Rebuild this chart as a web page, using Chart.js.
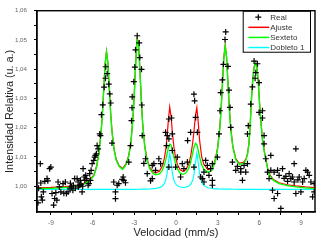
<!DOCTYPE html>
<html>
<head>
<meta charset="utf-8">
<script src="https://cdn.jsdelivr.net/npm/chart.js@4.4.0/dist/chart.umd.min.js"></script>
<style>
html, body { margin: 0; padding: 0; background: #fff; }
</style>
</head>
<body>
<canvas id="chart_mossbauer" width="322" height="242"></canvas>
<script>
// fitted curves, velocity in mm/s
var fitVelocity = [
  -10, -9, -8, -7.2, -6.6, -6.2, -5.9, -5.7, -5.55, -5.4,
  -5.3, -5.2, -5.1, -5.0, -4.9, -4.8, -4.7, -4.6, -4.45, -4.3,
  -4.1, -3.84, -3.6, -3.4, -3.25, -3.1, -3.0, -2.9, -2.8, -2.7,
  -2.6, -2.5, -2.4, -2.25, -2.1, -1.9, -1.65, -1.45, -1.2, -1.0,
  -0.85, -0.75, -0.65, -0.55, -0.45, -0.35, -0.25, -0.15, -0.05, 0.1,
  0.3, 0.5, 0.7, 0.9, 1.05, 1.2, 1.3, 1.4, 1.5, 1.6,
  1.7, 1.85, 2.0, 2.3, 2.6, 2.8, 2.99, 3.14, 3.24, 3.34,
  3.44, 3.54, 3.64, 3.74, 3.84, 3.94, 4.09, 4.3, 4.55, 4.75,
  4.9, 5.05, 5.15, 5.25, 5.33, 5.42, 5.52, 5.62, 5.72, 5.82,
  5.92, 6.0, 6.1, 6.22, 6.35, 6.46, 6.6, 6.72, 7.0, 7.42,
  8.0, 8.62, 9.3, 10
];
var fitAjuste = [
  0.99953, 0.99959, 0.99986, 1.00026, 1.00112, 1.00222, 1.00392, 1.00712, 1.01152, 1.01792,
  1.02442, 1.03312, 1.04192, 1.04612, 1.04222, 1.03352, 1.02502, 1.01862, 1.01262, 1.00922,
  1.00713, 1.00603, 1.00763, 1.01054, 1.01494, 1.02315, 1.03175, 1.04235, 1.05046, 1.04936,
  1.04028, 1.02979, 1.02160, 1.01391, 1.00963, 1.00657, 1.00496, 1.00459, 1.00515, 1.00678,
  1.00930, 1.01212, 1.01645, 1.02259, 1.02711, 1.02359, 1.01782, 1.01341, 1.01035, 1.00747,
  1.00563, 1.00512, 1.00562, 1.00740, 1.01013, 1.01477, 1.01908, 1.02426, 1.02689, 1.02182,
  1.01558, 1.01001, 1.00749, 1.00561, 1.00619, 1.00862, 1.01311, 1.01950, 1.02618, 1.03501,
  1.04407, 1.04831, 1.04416, 1.03520, 1.02646, 1.01987, 1.01363, 1.00942, 1.00786, 1.00805,
  1.00835, 1.00954, 1.01134, 1.01484, 1.02033, 1.02933, 1.03633, 1.04083, 1.04243, 1.04082,
  1.03582, 1.02932, 1.02272, 1.01612, 1.01212, 1.00932, 1.00611, 1.00411, 1.00231, 1.00121,
  1.00051, 1.00011, 0.99976, 0.99951
];
var fitSexteto = [
  0.99922, 0.99928, 0.99955, 0.99995, 1.00080, 1.00190, 1.00360, 1.00680, 1.01120, 1.01760,
  1.02410, 1.03280, 1.04160, 1.04580, 1.04190, 1.03320, 1.02470, 1.01830, 1.01230, 1.00890,
  1.00680, 1.00570, 1.00730, 1.01020, 1.01460, 1.02280, 1.03140, 1.04200, 1.05010, 1.04900,
  1.03990, 1.02940, 1.02120, 1.01350, 1.00920, 1.00610, 1.00440, 1.00390, 1.00420, 1.00535,
  1.00705, 1.00876, 1.01091, 1.01307, 1.01442, 1.01405, 1.01224, 1.00999, 1.00802, 1.00592,
  1.00449, 1.00409, 1.00452, 1.00599, 1.00814, 1.01135, 1.01350, 1.01472, 1.01420, 1.01230,
  1.01004, 1.00730, 1.00586, 1.00473, 1.00556, 1.00810, 1.01263, 1.01904, 1.02573, 1.03457,
  1.04364, 1.04789, 1.04375, 1.03480, 1.02606, 1.01948, 1.01325, 1.00905, 1.00750, 1.00770,
  1.00800, 1.00920, 1.01100, 1.01450, 1.02000, 1.02900, 1.03600, 1.04050, 1.04210, 1.04050,
  1.03550, 1.02900, 1.02240, 1.01580, 1.01180, 1.00900, 1.00580, 1.00380, 1.00200, 1.00090,
  1.00020, 0.99980, 0.99945, 0.99920
];
var fitDobleto1 = [
  0.99891, 0.99891, 0.99891, 0.99891, 0.99892, 0.99892, 0.99892, 0.99892, 0.99892, 0.99892,
  0.99892, 0.99892, 0.99892, 0.99892, 0.99892, 0.99892, 0.99892, 0.99892, 0.99892, 0.99893,
  0.99893, 0.99893, 0.99894, 0.99894, 0.99895, 0.99895, 0.99896, 0.99896, 0.99897, 0.99897,
  0.99898, 0.99899, 0.99900, 0.99901, 0.99903, 0.99907, 0.99916, 0.99929, 0.99955, 1.00003,
  1.00085, 1.00196, 1.00414, 1.00812, 1.01129, 1.00814, 1.00418, 1.00202, 1.00093, 1.00015,
  0.99974, 0.99963, 0.99970, 1.00001, 1.00059, 1.00202, 1.00418, 1.00814, 1.01129, 1.00812,
  1.00414, 1.00131, 1.00023, 0.99948, 0.99923, 0.99912, 0.99908, 0.99906, 0.99905, 0.99904,
  0.99903, 0.99902, 0.99901, 0.99900, 0.99900, 0.99899, 0.99898, 0.99897, 0.99896, 0.99895,
  0.99895, 0.99894, 0.99894, 0.99894, 0.99893, 0.99893, 0.99893, 0.99893, 0.99893, 0.99892,
  0.99892, 0.99892, 0.99892, 0.99892, 0.99892, 0.99892, 0.99891, 0.99891, 0.99891, 0.99891,
  0.99891, 0.99891, 0.99891, 0.99891
];

// measured spectrum
var realVelocity = [
  -9.93, -9.885, -9.762, -9.726, -9.69, -9.618, -9.546, -9.438, -9.279, -9.222,
  -9.092, -9.005, -8.919, -8.803, -8.731, -8.645, -8.573, -8.486, -8.392, -8.284,
  -8.126, -8.068, -7.96, -7.888, -7.765, -7.635, -7.599, -7.527, -7.419, -7.383,
  -7.289, -7.239, -7.116, -7.044, -7.023, -6.929, -6.878, -6.828, -6.756, -6.712,
  -6.684, -6.612, -6.554, -6.496, -6.424, -6.323, -6.266, -6.208, -6.157, -6.107,
  -6.035, -5.919, -5.847, -5.797, -5.725, -5.674, -5.602, -5.487, -5.436, -5.364,
  -5.271, -5.17, -5.076, -5.054, -4.953, -4.838, -4.766, -4.694, -4.607, -4.477,
  -4.355, -4.355, -4.232, -4.117, -3.872, -3.8, -3.756, -3.634, -3.396, -3.273,
  -3.201, -3.165, -3.151, -3.035, -2.963, -2.913, -2.79, -2.646, -2.603, -2.48,
  -2.459, -2.43, -2.314, -2.192, -2.069, -1.831, -1.709, -1.709, -1.593, -1.471,
  -1.233, -1.11, -0.75, -0.678, -0.627, -0.512, -0.512, -0.512, -0.317, -0.267,
  -0.267, -0.029, 0.094, 0.332, 0.454, 0.57, 0.815, 0.836, 1.053, 1.291,
  1.291, 1.341, 1.413, 1.536, 1.774, 1.896, 2.012, 2.012, 2.134, 2.257,
  2.372, 2.495, 2.617, 2.617, 2.617, 2.978, 3.093, 3.165, 3.216, 3.338,
  3.41, 3.526, 3.576, 3.742, 3.814, 3.886, 3.937, 4.059, 4.297, 4.42,
  4.658, 4.658, 4.78, 4.896, 5.018, 5.141, 5.141, 5.198, 5.379, 5.501,
  5.617, 5.689, 5.739, 5.862, 5.977, 5.977, 6.222, 6.222, 6.338, 6.338,
  6.46, 6.583, 6.698, 6.821, 6.821, 6.943, 7.059, 7.059, 7.304, 7.304,
  7.419, 7.542, 7.664, 7.78, 7.902, 8.025, 8.14, 8.263, 8.385, 8.501,
  8.501, 8.623, 8.623, 8.767, 8.861, 8.984, 9.106, 9.222, 9.344, 9.467,
  9.582, 9.705, 9.827, 9.943, 9.943
];
var realIntensity = [
  0.99433, 0.99932, 1.00771, 1.00112, 0.99637, 0.99525, 0.99806, 1.0017, 1.00261, 1.00187,
  1.00601, 1.00655, 0.99752, 0.99355, 0.99582, 0.99779, 0.99525, 1.00146, 0.99976, 0.99806,
  1.00092, 0.99762, 1.00146, 0.99752, 0.99806, 0.99932, 1.00102, 0.99976, 0.99864, 1.00034,
  1.00261, 0.99932, 1.00261, 1.00146, 0.99976, 1.00034, 1.00204, 1.00068, 0.99806, 1.0,
  1.00601, 1.00316, 1.00204, 1.00374, 1.00261, 1.00034, 1.00092, 1.00431, 1.00204, 1.00543,
  1.00771, 1.00883, 1.00995, 1.01053, 1.0111, 1.01392, 1.0128, 1.0179, 1.01732, 1.02445,
  1.02785, 1.03386, 1.03691, 1.04085, 1.03848, 1.03488, 1.03158, 1.02846, 1.01477, 1.00146,
  0.99806, 0.99575, 1.00034, 1.00092, 1.00238, 1.00316, 1.00204, 1.00119, 1.00825, 1.01392,
  1.02241, 1.02683, 1.03056, 1.03576, 1.04075, 1.04662, 1.05144, 1.049, 1.04397, 1.03997,
  1.02778, 1.01732, 1.00781, 1.00941, 1.00431, 1.00187, 1.00261, 1.00713, 1.00771, 1.00543,
  1.00941, 1.00771, 1.01844, 1.01392, 1.01732, 1.0162, 1.02299, 1.00655, 1.02333, 1.0179,
  1.01223, 1.00655, 1.00995, 1.00316, 1.00771, 1.00601, 1.00825, 1.01562, 1.01844, 1.00655,
  1.03148, 1.0292, 1.02353, 1.01844, 1.00316, 1.00261, 1.00486, 1.00146, 1.00883, 1.00713,
  1.00374, 1.00601, 1.00771, 1.00204, 1.00034, 1.00995, 1.0179, 1.02581, 1.03202, 1.03634,
  1.04167, 1.05016, 1.05274, 1.04099, 1.03284, 1.02693, 1.02014, 1.00825, 1.00543, 1.00679,
  1.00601, 1.00486, 1.00204, 1.00713, 1.00486, 1.00771, 1.0179, 1.02072, 1.02808, 1.03396,
  1.04279, 1.03691, 1.03882, 1.04187, 1.03542, 1.02523, 1.02581, 1.02333, 1.01732, 1.0145,
  1.00941, 1.00486, 1.00261, 1.01053, 1.00543, 0.99864, 1.00486, 0.99582, 1.00543, 0.99752,
  1.00374, 0.99243, 1.00601, 1.00272, 1.0034, 1.0017, 1.00431, 1.00261, 1.00316, 1.00771,
  1.00146, 1.0128, 0.99752, 1.0022, 1.00316, 0.99806, 1.00146, 1.00261, 1.00543, 1.00486,
  1.00374, 1.00146, 0.99637, 0.99806, 1.00092
];

// ticks (empty label = minor tick)
var xTickValues = [-9, -7.5, -6, -4.5, -3, -1.5, 0, 1.5, 3, 4.5, 6, 7.5, 9];
var xTickLabels = ['-9', '', '-6', '', '-3', '', '0', '', '3', '', '6', '', '9'];
var yTickValues = [0.995, 1.00, 1.005, 1.01, 1.015, 1.02, 1.025, 1.03, 1.035, 1.04, 1.045, 1.05, 1.055, 1.06];
var yTickLabels = ['', '1,00', '', '1,01', '', '1,02', '', '1,03', '', '1,04', '', '1,05', '', '1,06'];

var FONT = "'Liberation Sans', Arial, sans-serif";

function toPoints(xs, ys) {
  return xs.map(function (x, i) { return { x: x, y: ys[i] }; });
}

var frameAndLegend = {
  id: 'frameAndLegend',
  afterDraw: function (chart) {
    var ctx = chart.ctx;
    var a = chart.chartArea;
    ctx.save();
    ctx.strokeStyle = '#000';
    ctx.lineWidth = 1.4;
    ctx.strokeRect(a.left, a.top, a.right - a.left, a.bottom - a.top);

    // legend box, top right corner
    var bx = a.right - 72.3, by = a.top, bw = 67.3, bh = 41;
    ctx.lineWidth = 1;
    ctx.strokeRect(bx + 0.5, by + 0.5, bw, bh);
    ctx.font = '8px ' + FONT;
    ctx.textBaseline = 'middle';
    ctx.textAlign = 'left';
    chart.data.datasets.forEach(function (ds, i) {
      var y = by + 6.5 + i * 10.1;
      ctx.strokeStyle = ds.borderColor;
      if (ds.showLine) {
        ctx.lineWidth = 1.5;
        ctx.beginPath();
        ctx.moveTo(bx + 5.6, y);
        ctx.lineTo(bx + 26.6, y);
        ctx.stroke();
      } else {
        ctx.lineWidth = 1.2;
        ctx.beginPath();
        ctx.moveTo(bx + 12.6, y);
        ctx.lineTo(bx + 18.6, y);
        ctx.moveTo(bx + 15.6, y - 3);
        ctx.lineTo(bx + 15.6, y + 3);
        ctx.stroke();
      }
      ctx.fillStyle = '#333';
      ctx.fillText(ds.label, bx + 27.5, y + 0.5);
    });
    ctx.restore();
  }
};

var chart_mossbauer = new Chart(document.getElementById('chart_mossbauer'), {
  type: 'scatter',
  data: {
    datasets: [
      {
        label: 'Real',
        data: toPoints(realVelocity, realIntensity),
        showLine: false,
        pointStyle: 'cross',
        pointRadius: 3,
        borderColor: '#000000',
        borderWidth: 1.2,
        order: 0
      },
      {
        label: 'Ajuste',
        data: toPoints(fitVelocity, fitAjuste),
        showLine: true,
        pointRadius: 0,
        borderColor: '#ff0000',
        borderWidth: 1.2,
        tension: 0,
        order: 3
      },
      {
        label: 'Sexteto',
        data: toPoints(fitVelocity, fitSexteto),
        showLine: true,
        pointRadius: 0,
        borderColor: '#00ff00',
        borderWidth: 1.4,
        tension: 0,
        order: 1
      },
      {
        label: 'Dobleto 1',
        data: toPoints(fitVelocity, fitDobleto1),
        showLine: true,
        pointRadius: 0,
        borderColor: '#00ffff',
        borderWidth: 1.2,
        tension: 0,
        order: 2
      }
    ]
  },
  options: {
    animation: false,
    responsive: false,
    devicePixelRatio: 1,
    layout: { padding: { top: 9, right: 7, bottom: 0, left: 0 } },
    plugins: {
      legend: { display: false },
      tooltip: { enabled: false }
    },
    scales: {
      x: {
        type: 'linear',
        min: -10,
        max: 10,
        afterBuildTicks: function (scale) {
          scale.ticks = xTickValues.map(function (v) { return { value: v }; });
        },
        afterFit: function (scale) { scale.height = 30; },
        ticks: {
          autoSkip: false,
          maxRotation: 0,
          padding: 4,
          color: '#666',
          font: { family: FONT, size: 6.5 },
          callback: function (value, index) { return xTickLabels[index]; }
        },
        grid: { drawOnChartArea: false, drawTicks: true, tickLength: 3, tickColor: '#000' },
        border: { display: true, color: '#000', width: 1.3 },
        title: {
          display: true,
          text: 'Velocidad (mm/s)',
          color: '#222',
          font: { family: FONT, size: 11 },
          padding: { top: 0, bottom: 2 }
        }
      },
      y: {
        type: 'linear',
        min: 0.9912,
        max: 1.06,
        afterBuildTicks: function (scale) {
          scale.ticks = yTickValues.map(function (v) { return { value: v }; });
        },
        afterFit: function (scale) { scale.width = 37; },
        ticks: {
          autoSkip: false,
          padding: 7,
          color: '#666',
          font: { family: FONT, size: 6.2 },
          callback: function (value, index) { return yTickLabels[index]; }
        },
        grid: { drawOnChartArea: false, drawTicks: true, tickLength: 3, tickColor: '#000' },
        border: { display: true, color: '#000', width: 1.3 },
        title: {
          display: true,
          text: 'Intensidad Relativa (u. a.)',
          color: '#222',
          font: { family: FONT, size: 10.8 },
          padding: { top: 4, bottom: 0 }
        }
      }
    }
  },
  plugins: [{
    id: 'whiteBackground',
    beforeDraw: function (chart) {
      var ctx = chart.canvas.getContext('2d');
      ctx.save();
      ctx.globalCompositeOperation = 'destination-over';
      ctx.fillStyle = 'white';
      ctx.fillRect(0, 0, chart.canvas.width, chart.canvas.height);
      ctx.restore();
    }
  }, frameAndLegend]
});
</script>
</body>
</html>
